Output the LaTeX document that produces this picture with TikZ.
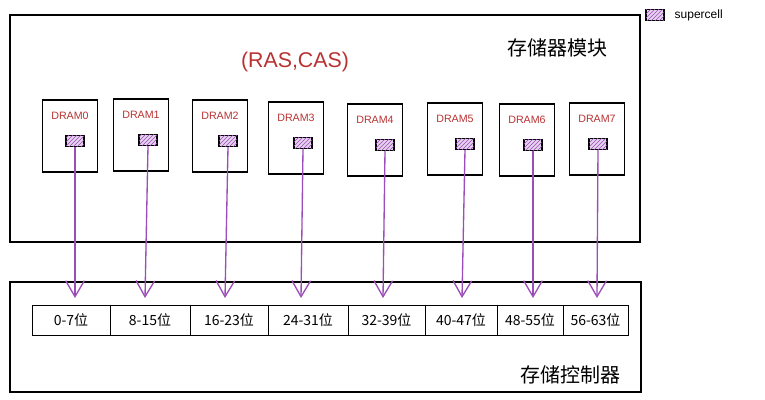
\documentclass[tikz,border=0pt]{standalone}
\usepackage{fontspec}
\setmainfont{Liberation Sans}
\newfontfamily\cjk{Noto Sans CJK SC}
\usetikzlibrary{patterns,arrows.meta}
\definecolor{dred}{HTML}{B83232}
\definecolor{purp}{HTML}{9B4DB8}
\definecolor{lpurp}{HTML}{E6D2EE}
\tikzset{
  box/.style={draw=black,line width=0.9pt},
  dram/.style={box,minimum width=55\px,minimum height=72\px,inner sep=0pt},
  sc/.style={draw=black,line width=0.8pt,fill=lpurp,minimum width=18\px,minimum height=11\px,inner sep=0pt,postaction={pattern=north east lines,pattern color=purp}},
  cell/.style={draw=black,line width=0.7pt,minimum height=30\px,inner sep=0pt,font=\fontsize{10.5}{12}\selectfont\cjk},
  arr/.style={draw=purp,line width=1pt,-{Straight Barb[length=12pt,width=14pt]}},
  lbl/.style={text=dred,font=\fontsize{8}{10}\selectfont}
}
\newlength{\px}\setlength{\px}{0.75pt}
\begin{document}
\begin{tikzpicture}[x=0.75pt,y=-0.75pt]
\useasboundingbox (0,0) rectangle (765,400);
\node[box,minimum width=630\px,minimum height=227\px,inner sep=0pt] (mod) at (325,128.5) {};
\node[box,minimum width=631\px,minimum height=110\px,inner sep=0pt] (ctl) at (325.5,337) {};
\node[text=dred,font=\fontsize{16}{18}\selectfont] (rc) at (295,62) {(RAS,CAS)};
\node[font=\fontsize{15}{18}\selectfont\cjk] (t1) at (557,48) {存储器模块};
\node[font=\fontsize{15}{18}\selectfont\cjk] (t2) at (570,375) {存储控制器};
\node[sc] (lg) at (655,15) {};
\node[anchor=west,font=\fontsize{9}{10}\selectfont] (lgt) at (670,15) {supercell};
\foreach \i/\cx/\cy/\sx/\ax/\a/\b/\t in {0/70/136/75/75/32/110/0-7,1/141/135/148/145/110/190/8-15,2/220/136/228/225/190/268/16-23,3/296/138/303/301/268/348/24-31,4/375/140/385/383/348/425/32-39,5/455/139/465/462/425/497/40-47,6/527/140/533/533/497/563/48-55,7/597/139/598/597/563/628/56-63}{
  \node[dram] (d\i) at (\cx,\cy) {};
  \node[lbl] (l\i) at (\cx,\cy-20) {DRAM\i};
  \node[sc] (s\i) at (\sx,\cy+5) {};
  \node[cell,minimum width={(\b-\a)*\px}] (c\i) at ({(\a+\b)/2},320) {\t 位};
  \coordinate (e\i) at (\ax,298);
  \draw[arr] (s\i.south) -- (e\i);
}
\end{tikzpicture}
\end{document}
